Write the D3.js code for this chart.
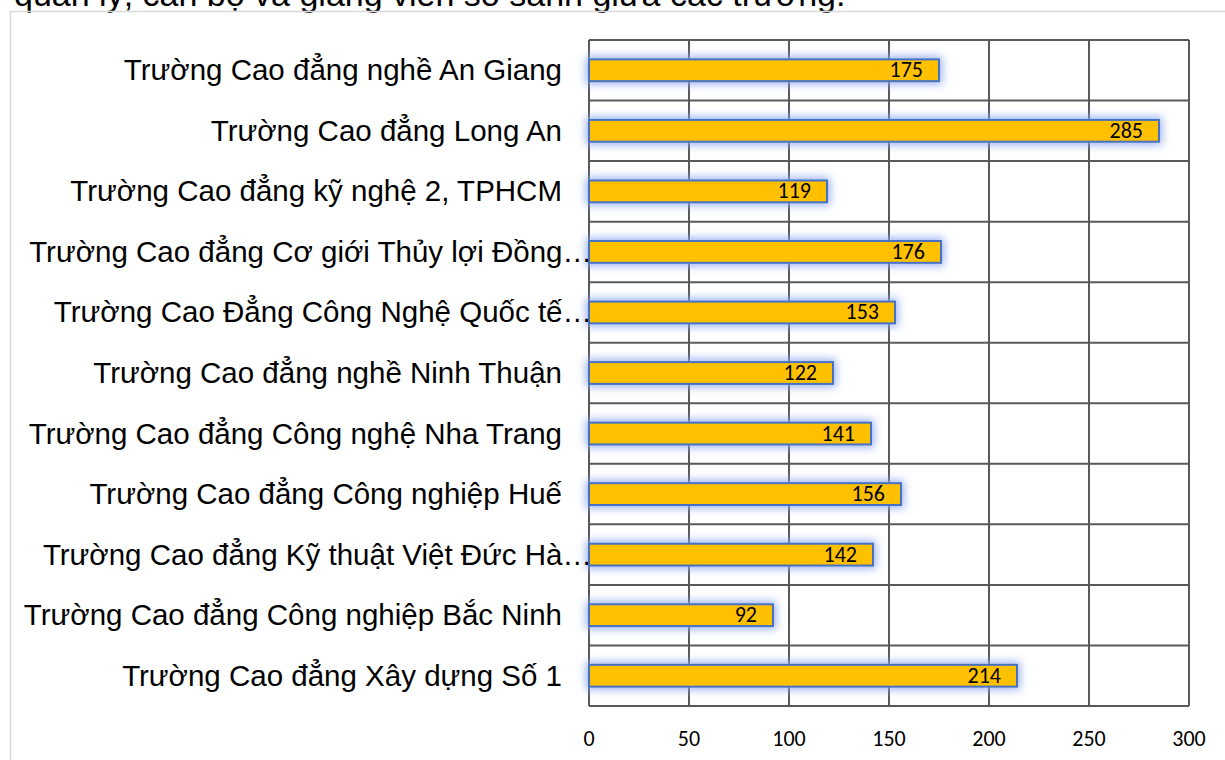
<!DOCTYPE html>
<html>
<head>
<meta charset="utf-8">
<script src="https://cdn.jsdelivr.net/npm/d3@7"></script>
<style>
  body { margin: 0; background: #fff; }
  svg { display: block; }
</style>
</head>
<body>
<div id="chart"></div>
<script>
// data
var schools = [
  "Trường Cao đẳng nghề An Giang",
  "Trường Cao đẳng Long An",
  "Trường Cao đẳng kỹ nghệ 2, TPHCM",
  "Trường Cao đẳng Cơ giới Thủy lợi Đồng…",
  "Trường Cao Đẳng Công Nghệ Quốc tế…",
  "Trường Cao đẳng nghề Ninh Thuận",
  "Trường Cao đẳng Công nghệ Nha Trang",
  "Trường Cao đẳng Công nghiệp Huế",
  "Trường Cao đẳng Kỹ thuật Việt Đức Hà…",
  "Trường Cao đẳng Công nghiệp Bắc Ninh",
  "Trường Cao đẳng Xây dựng Số 1"
];
var counts = [175, 285, 119, 176, 153, 122, 141, 156, 142, 92, 214];
var xTicks = [0, 50, 100, 150, 200, 250, 300];
var caption = "quản lý, cán bộ và giảng viên so sánh giữa các trường.";

var W = 1225, H = 760;
var plot = { left: 589, right: 1189, top: 40, bottom: 706 };

var svg = d3.select("#chart").append("svg")
    .attr("width", W)
    .attr("height", H);

// glow filter for bars
var defs = svg.append("defs");
var glow = defs.append("filter").attr("id", "glow")
    .attr("x", "-20%").attr("y", "-80%").attr("width", "140%").attr("height", "260%");
glow.append("feMorphology").attr("in", "SourceAlpha").attr("operator", "dilate").attr("radius", 2).attr("result", "d");
glow.append("feGaussianBlur").attr("in", "d").attr("stdDeviation", 4).attr("result", "b");
glow.append("feFlood").attr("flood-color", "#8fa9f0").attr("flood-opacity", 0.9);
glow.append("feComposite").attr("in2", "b").attr("operator", "in").attr("result", "g");
var merge = glow.append("feMerge");
merge.append("feMergeNode").attr("in", "g");
merge.append("feMergeNode").attr("in", "SourceGraphic");

// caption (cut at the top, as in the source page)
svg.append("text")
    .attr("x", 14).attr("y", 6)
    .style("font-family", "'Liberation Sans', Arial, sans-serif")
    .style("font-size", "34px")
    .attr("fill", "#000")
    .text(caption);

// chart frame
svg.append("rect")
    .attr("x", 10.5).attr("y", 11.5)
    .attr("width", W).attr("height", H)
    .attr("fill", "none")
    .attr("stroke", "#d9d9d9")
    .attr("stroke-width", 1.5);

var x = d3.scaleLinear().domain([0, 300]).range([plot.left, plot.right]);
var y = d3.scaleBand().domain(schools).range([plot.top, plot.bottom]).paddingInner(0.64).paddingOuter(0.32);
var band = d3.scaleBand().domain(schools).range([plot.top, plot.bottom]);

var grid = svg.append("g");
// vertical gridlines
grid.selectAll("line.v")
    .data(xTicks)
    .enter()
    .append("line")
        .attr("class", "v")
        .attr("x1", d => x(d)).attr("x2", d => x(d))
        .attr("y1", plot.top).attr("y2", plot.bottom)
        .attr("stroke", "#595959")
        .attr("stroke-width", 2);
// horizontal gridlines at category boundaries
var bounds = schools.map(s => band(s)).concat([plot.bottom]);
grid.selectAll("line.h")
    .data(bounds)
    .enter()
    .append("line")
        .attr("class", "h")
        .attr("x1", plot.left).attr("x2", plot.right)
        .attr("y1", d => d).attr("y2", d => d)
        .attr("stroke", "#595959")
        .attr("stroke-width", 2);

// bars
svg.selectAll("rect.bar")
    .data(schools)
    .enter()
    .append("rect")
        .attr("class", "bar")
        .attr("x", x(0))
        .attr("y", d => y(d))
        .attr("width", (d, i) => x(counts[i]) - x(0))
        .attr("height", y.bandwidth())
        .attr("fill", "#ffc000")
        .attr("stroke", "#4472c4")
        .attr("stroke-width", 2)
        .attr("filter", "url(#glow)");

// value labels
svg.selectAll("text.val")
    .data(schools)
    .enter()
    .append("text")
        .attr("class", "val")
        .attr("x", (d, i) => x(counts[i]) - 16)
        .attr("y", d => y(d) + y.bandwidth() / 2 + 7)
        .attr("text-anchor", "end")
        .style("font-family", "Carlito, Calibri, 'Open Sans', sans-serif")
        .style("font-size", "22px")
        .attr("fill", "#000")
        .text((d, i) => counts[i]);

// category labels
svg.selectAll("text.cat")
    .data(schools)
    .enter()
    .append("text")
        .attr("class", "cat")
        .attr("x", d => d.endsWith("…") ? 592 : 562)
        .attr("y", d => band(d) + band.bandwidth() / 2 + 10)
        .attr("text-anchor", "end")
        .style("font-family", "'Liberation Sans', Arial, sans-serif")
        .style("font-size", "29.5px")
        .attr("fill", "#000")
        .text(d => d);

// x tick labels
svg.selectAll("text.tick")
    .data(xTicks)
    .enter()
    .append("text")
        .attr("class", "tick")
        .attr("x", d => x(d))
        .attr("y", 746)
        .attr("text-anchor", "middle")
        .style("font-family", "Carlito, Calibri, 'Open Sans', sans-serif")
        .style("font-size", "22px")
        .attr("fill", "#000")
        .text(d => d);
</script>
</body>
</html>
